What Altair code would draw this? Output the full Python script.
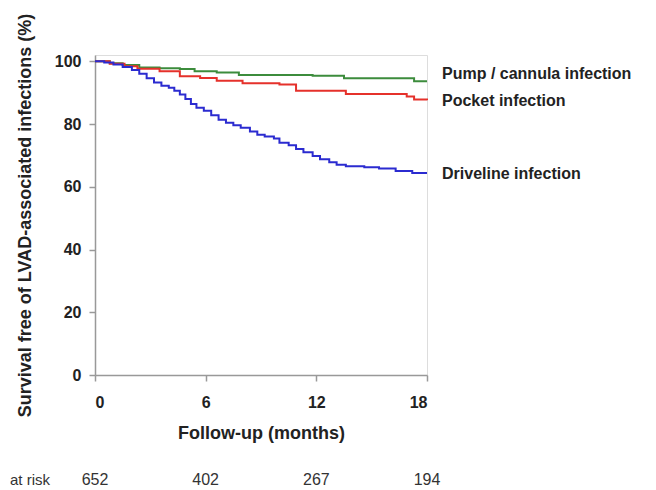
import altair as alt
import pandas as pd

# Kaplan-Meier step data (months, % free of infection)
drive_t = [0, 0.5, 1.0, 1.5, 2.0, 2.4, 2.8, 3.2, 3.6, 4.0, 4.3, 4.6, 4.9, 5.2, 5.5, 5.9,
           6.3, 6.7, 7.1, 7.5, 7.9, 8.4, 8.8, 9.2, 9.7, 10.0, 10.5, 10.9, 11.3, 11.8,
           12.2, 12.7, 13.1, 13.6, 14.6, 15.4, 16.3, 17.2, 18.0]
drive_v = [100, 99.6, 99.0, 98.2, 97.2, 96.0, 94.6, 93.2, 92.2, 91.6, 90.6, 89.4, 88.0,
           86.4, 85.2, 84.2, 82.8, 81.4, 80.4, 79.6, 78.8, 77.6, 76.6, 76.0, 75.4, 74.0,
           73.2, 72.0, 71.0, 69.8, 68.8, 67.8, 67.0, 66.5, 66.2, 65.8, 65.0, 64.4, 64.4]
pump_t = [0, 0.8, 1.5, 2.4, 3.5, 4.6, 5.4, 6.6, 7.8, 11.8, 13.5, 17.3, 18.0]
pump_v = [100, 99.4, 98.8, 98.0, 97.8, 97.5, 96.8, 96.4, 95.6, 95.4, 94.6, 93.6, 93.6]
pocket_t = [0, 0.8, 1.6, 2.3, 3.5, 4.6, 5.7, 6.6, 8.0, 10.0, 10.9, 13.6, 16.9, 17.3, 18.0]
pocket_v = [100, 99.2, 98.4, 97.6, 96.8, 95.2, 94.7, 93.8, 93.0, 92.6, 90.6, 89.6, 88.8, 87.8, 87.6]

series_names = ["Pump / cannula infection", "Pocket infection", "Driveline infection"]
series_colors = ["#3c8c3c", "#e5312b", "#2b2bd0"]
label_dy = [-7, 1, 1]

risk_months = [0, 6, 12, 18]
risk_counts = ["652", "402", "267", "194"]

x_ticks = [0, 6, 12, 18]
y_ticks = [0, 20, 40, 60, 80, 100]

rows = []
for name, ts, vs in zip(series_names, [pump_t, pocket_t, drive_t], [pump_v, pocket_v, drive_v]):
    for t, v in zip(ts, vs):
        rows.append({"series": name, "month": t, "surv": v})
df = pd.DataFrame(rows)

FONT = "Liberation Sans"

xscale = alt.Scale(domain=[0, 18])
yscale = alt.Scale(domain=[0, 102])

lines = alt.Chart(df).mark_line(interpolate="step-after", strokeWidth=2).encode(
    x=alt.X("month:Q", scale=xscale,
            axis=alt.Axis(values=x_ticks, title="Follow-up (months)", grid=False,
                          labelFont=FONT, labelFontSize=16, labelFontWeight="bold",
                          labelColor="#222", titleFont=FONT, titleFontSize=18,
                          titleFontWeight="bold", titleColor="#222",
                          domainColor="#999", tickColor="#999", tickSize=6,
                          domainWidth=1.5, tickWidth=1.5,
                          labelPadding=13, titlePadding=14)),
    y=alt.Y("surv:Q", scale=yscale,
            axis=alt.Axis(values=y_ticks, title="Survival free of LVAD-associated infections (%)",
                          grid=False, labelFont=FONT, labelFontSize=16,
                          labelFontWeight="bold", labelColor="#222", titleFont=FONT,
                          titleFontSize=18, titleFontWeight="bold", titleColor="#222",
                          domainColor="#999", tickColor="#999", tickSize=6,
                          domainWidth=1.5, tickWidth=1.5,
                          labelPadding=8, titlePadding=20)),
    color=alt.Color("series:N", scale=alt.Scale(domain=series_names, range=series_colors),
                    legend=None),
)

layers = [lines]
ends = df.groupby("series", sort=False).last().reset_index()
for name, dy in zip(series_names, label_dy):
    sub = ends[ends["series"] == name]
    layers.append(
        alt.Chart(sub).mark_text(align="left", baseline="middle", dx=15, dy=dy,
                                 font=FONT, fontSize=16, fontWeight="bold",
                                 color="#222").encode(
            x=alt.X("month:Q", scale=xscale),
            y=alt.Y("surv:Q", scale=yscale),
            text="series:N",
        )
    )

risk_df = pd.DataFrame({"month": risk_months, "n": risk_counts})
layers.append(
    alt.Chart(risk_df).mark_text(baseline="middle", font=FONT, fontSize=16,
                                 color="#333").encode(
        x=alt.X("month:Q", scale=xscale),
        y=alt.value(425),
        text="n:N",
    )
)
layers.append(
    alt.Chart(pd.DataFrame({"lab": ["at risk"]})).mark_text(
        align="right", baseline="middle", font=FONT, fontSize=15, color="#333").encode(
        x=alt.value(-45),
        y=alt.value(425),
        text="lab:N",
    )
)

chart = alt.layer(*layers).properties(
    width=332, height=320,
    autosize=alt.AutoSizeParams(type="none"),
    padding={"left": 87, "top": 47, "right": 219, "bottom": 115},
).configure_view(stroke=None).configure(background="white")

chart.save("out.html", embed_options={"renderer": "svg", "actions": False})
